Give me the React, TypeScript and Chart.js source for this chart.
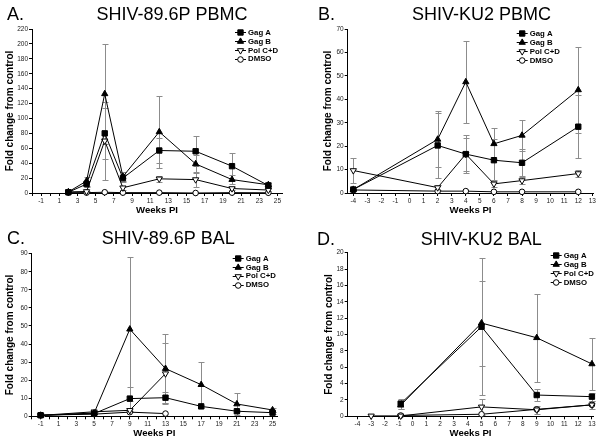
import React, { useEffect, useRef } from 'react';
import { Chart, registerables } from 'chart.js';

Chart.register(...registerables);

const FONT = '"Liberation Sans", Arial, Helvetica, sans-serif';
Chart.defaults.font.family = FONT;

const SERIES_LABELS = ['Gag A', 'Gag B', 'Pol C+D', 'DMSO'];

// ---- Panel A: SHIV-89.6P PBMC ----
const weeksA = [2, 4, 6, 8, 12, 16, 20, 24];
const gagA_A = [1, 12, 80, 20, 57, 56, 36, 10];
const gagB_A = [1.5, 16, 133, 22, 82, 39, 18, 11];
const pol_A = [1.5, 2, 70, 7, 19, 18, 6, 4];
const dmso_A = [0.5, 0.5, 1, 0.5, 0.5, 0, 0.5, 0.3];
const errGagA_A = [0.5, 4, 34, 5, 17, 20, 18, 3];
const errGagB_A = [1, 6, 67, 6, 48, 12, 6, 4];
const errPol_A = [0.5, 1, 52, 3, 4, 10, 2, 1];
const errDmso_A = [0, 0, 0, 0, 0, 0, 0, 0];
const xLabelsA = [-1, 1, 3, 5, 7, 9, 11, 13, 15, 17, 19, 21, 23, 25];

// ---- Panel B: SHIV-KU2 PBMC ----
const weeksB = [-4, 2, 4, 6, 8, 12];
const gagA_B = [1.5, 20.3, 16.6, 14, 12.9, 28.3];
const gagB_B = [1.5, 22.9, 47.4, 21, 24.6, 44];
const pol_B = [9.6, 2.3, 16.6, 3.9, 5.3, 8.3];
const dmso_B = [1.3, 0.8, 0.8, 0.5, 0.5, 0.5];
const errGagA_B = [0.3, 14, 8, 9, 5.7, 13.5];
const errGagB_B = [0.3, 12, 17.6, 6.7, 6.6, 18.5];
const errPol_B = [5.5, 1, 7, 1.5, 1.5, 1.5];
const errDmso_B = [0, 0, 0, 0, 0, 0];
const xLabelsB = [-4, -3, -2, -1, 0, 1, 2, 3, 4, 5, 6, 7, 8, 9, 10, 11, 12, 13];

// ---- Panel C: SHIV-89.6P BAL ----
const weeksC = [-1, 5, 9, 13, 17, 21, 25];
const weeksShortC = [-1, 5, 9, 13];
const gagA_C = [0.6, 1.5, 9.8, 10.3, 5.5, 2.8, 2];
const gagB_C = [0.5, 1.8, 48.2, 26.4, 17.5, 6.8, 3.5];
const pol_C = [0.5, 2.5, 3.3, 23.6];
const dmso_C = [0.6, 1.2, 2.3, 1.5];
const errGagA_C = [0.2, 0.5, 6.6, 3, 1, 0.5, 0.5];
const errGagB_C = [0.2, 0.5, 40, 19.2, 12.5, 6, 1];
const errPol_C = [0.2, 0.5, 1, 17];
const errDmso_C = [0, 0, 0, 0];
const xLabelsC = [-1, 1, 3, 5, 7, 9, 11, 13, 15, 17, 19, 21, 23, 25];

// ---- Panel D: SHIV-KU2 BAL ----
const weeksD = [-0.86, 5, 9, 13];
const weeksPolD = [-3, -0.86, 5, 9, 13];
const gagA_D = [1.55, 10.95, 2.6, 2.4];
const gagB_D = [1.35, 11.4, 9.6, 6.4];
const pol_D = [0.05, 0.05, 1.15, 0.8, 1.4];
const dmso_D = [0.1, 0.25, 0.85, 1.4];
const errGagA_D = [0.6, 8.4, 0.7, 0.5];
const errGagB_D = [0.5, 5.2, 5.4, 3.2];
const errPol_D = [0, 0, 1, 0.5, 0.5];
const errDmso_D = [0, 0, 0, 0];
const xLabelsD = [-4, -3, -2, -1, 0, 1, 2, 3, 4, 5, 6, 7, 8, 9, 10, 11, 12, 13];

const MARKERS = [
  { style: 'rect', rotation: 0, fill: '#000', radius: 3.8 },
  { style: 'triangle', rotation: 0, fill: '#000', radius: 3.6 },
  { style: 'triangle', rotation: 180, fill: '#fff', radius: 3.6 },
  { style: 'circle', rotation: 0, fill: '#fff', radius: 2.8 },
];

type Series = { label: string; weeks: number[]; values: number[]; errors: number[] };
type PanelCfg = {
  letter: string; title: string;
  left: number; top: number; width: number; height: number;
  area: { l: number; r: number; t: number; b: number };
  xMin: number; xMax: number; xLabels: number[];
  yMax: number; yStep: number;
  series: Series[];
  letterX: number; titleX: number; titleY: number;
  legX: number; legY: number; legGap: number;
  yTitlePad: number; xTitlePad: number;
};

function drawMarker(ctx: CanvasRenderingContext2D, i: number, x: number, y: number) {
  const m = MARKERS[i];
  ctx.beginPath();
  if (m.style === 'rect') {
    const s = Math.SQRT1_2 * m.radius;
    ctx.rect(x - s, y - s, 2 * s, 2 * s);
  } else if (m.style === 'triangle') {
    let rad = (m.rotation * Math.PI) / 180;
    ctx.moveTo(x + Math.sin(rad) * m.radius, y - Math.cos(rad) * m.radius);
    rad += (2 * Math.PI) / 3;
    ctx.lineTo(x + Math.sin(rad) * m.radius, y - Math.cos(rad) * m.radius);
    rad += (2 * Math.PI) / 3;
    ctx.lineTo(x + Math.sin(rad) * m.radius, y - Math.cos(rad) * m.radius);
    ctx.closePath();
  } else {
    ctx.arc(x, y, m.radius, 0, Math.PI * 2);
  }
  ctx.fillStyle = m.fill;
  ctx.fill();
  ctx.strokeStyle = '#000';
  ctx.lineWidth = 1;
  ctx.stroke();
}

const errorBarPlugin = {
  id: 'errorBars',
  beforeDatasetsDraw(chart: any) {
    const { ctx, chartArea, scales } = chart;
    const x = scales.x, y = scales.y;
    ctx.save();
    ctx.strokeStyle = '#8c8c8c';
    ctx.lineWidth = 1;
    chart.data.datasets.forEach((ds: any) => {
      const errs: number[] = ds.errors;
      if (!errs) return;
      ds.data.forEach((p: any, i: number) => {
        const e = errs[i];
        if (!e) return;
        const px = Math.round(x.getPixelForValue(p.x)) + 0.5;
        const top = Math.round(y.getPixelForValue(p.y + e)) + 0.5;
        const bot = Math.min(Math.round(y.getPixelForValue(Math.max(p.y - e, 0))) + 0.5, chartArea.bottom);
        ctx.beginPath();
        ctx.moveTo(px, top);
        ctx.lineTo(px, bot);
        ctx.moveTo(px - 3, top);
        ctx.lineTo(px + 3, top);
        ctx.moveTo(px - 3, bot);
        ctx.lineTo(px + 3, bot);
        ctx.stroke();
      });
    });
    ctx.restore();
  },
};

const decorPlugin = {
  id: 'decor',
  afterDraw(chart: any, _args: any, opts: any) {
    const ctx: CanvasRenderingContext2D = chart.ctx;
    ctx.save();
    ctx.fillStyle = '#000';
    ctx.textBaseline = 'alphabetic';
    ctx.font = `18px ${FONT}`;
    ctx.textAlign = 'left';
    ctx.fillText(opts.letter, opts.letterX, opts.titleY);
    ctx.textAlign = 'center';
    ctx.fillText(opts.title, opts.titleX, opts.titleY);
    // legend
    ctx.textAlign = 'left';
    ctx.textBaseline = 'middle';
    ctx.font = `bold 7.8px ${FONT}`;
    SERIES_LABELS.forEach((label, i) => {
      const yy = opts.legY + i * opts.legGap;
      ctx.beginPath();
      ctx.strokeStyle = '#000';
      ctx.lineWidth = 1;
      ctx.moveTo(opts.legX, Math.round(yy) + 0.5);
      ctx.lineTo(opts.legX + 11, Math.round(yy) + 0.5);
      ctx.stroke();
      drawMarker(ctx, i, opts.legX + 5.5, Math.round(yy) + 0.5);
      ctx.fillStyle = '#000';
      ctx.fillText(label, opts.legX + 13, yy + 0.5);
    });
    ctx.restore();
  },
};

function Panel({ cfg }: { cfg: PanelCfg }) {
  const ref = useRef<HTMLCanvasElement>(null);
  useEffect(() => {
    const canvas = ref.current!;
    const datasets = cfg.series.map((s, i) => ({
      label: s.label,
      data: s.weeks.map((w, j) => ({ x: w, y: s.values[j] })),
      errors: s.errors,
      borderColor: '#000',
      borderWidth: 1,
      backgroundColor: MARKERS[i].fill,
      pointBackgroundColor: MARKERS[i].fill,
      pointBorderColor: '#000',
      pointBorderWidth: 1,
      pointStyle: MARKERS[i].style,
      pointRotation: MARKERS[i].rotation,
      pointRadius: MARKERS[i].radius,
      tension: 0,
      fill: false,
      clip: false,
    }));
    const ints: number[] = [];
    for (let v = Math.ceil(cfg.xMin); v <= Math.floor(cfg.xMax); v++) ints.push(v);
    const tickFont = { size: 6.5, family: FONT };
    const chart = new Chart(canvas, {
      type: 'line',
      data: { datasets } as any,
      options: {
        responsive: false,
        animation: false,
        events: [],
        layout: { padding: { left: 0, top: cfg.area.t, right: cfg.width - cfg.area.r, bottom: 0 } },
        plugins: {
          legend: { display: false },
          tooltip: { enabled: false },
          decor: {
            letter: cfg.letter, title: cfg.title, letterX: cfg.letterX, titleX: cfg.titleX, titleY: cfg.titleY,
            legX: cfg.legX, legY: cfg.legY, legGap: cfg.legGap,
          },
        } as any,
        scales: {
          x: {
            type: 'linear',
            min: cfg.xMin,
            max: cfg.xMax,
            afterBuildTicks: (s: any) => { s.ticks = ints.map((v) => ({ value: v })); },
            afterFit: (s: any) => { s.height = cfg.height - cfg.area.b; },
            ticks: {
              autoSkip: false, maxRotation: 0, minRotation: 0, padding: 1, color: '#222', font: tickFont,
              callback: (v: any) => (cfg.xLabels.includes(Number(v)) ? String(v) : ''),
            },
            grid: { drawOnChartArea: false, drawTicks: true, tickLength: 3, color: '#000', lineWidth: 1 },
            border: { display: true, color: '#000', width: 1 },
            title: {
              display: true, text: 'Weeks PI', color: '#000',
              font: { size: 9.6, weight: 'bold', family: FONT },
              padding: { top: 0, bottom: cfg.xTitlePad },
            },
          } as any,
          y: {
            type: 'linear',
            min: 0,
            max: cfg.yMax,
            afterFit: (s: any) => { s.width = cfg.area.l; },
            ticks: { stepSize: cfg.yStep, padding: 1, color: '#222', font: tickFont },
            grid: { drawOnChartArea: false, drawTicks: true, tickLength: 3, color: '#000', lineWidth: 1 },
            border: { display: true, color: '#000', width: 1 },
            title: {
              display: true, text: 'Fold change from control', color: '#000',
              font: { size: 10, weight: 'bold', family: FONT },
              padding: { top: cfg.yTitlePad, bottom: 0 },
            },
          } as any,
        },
      },
      plugins: [errorBarPlugin, decorPlugin],
    });
    return () => chart.destroy();
  }, [cfg]);
  return (
    <canvas
      ref={ref}
      width={cfg.width}
      height={cfg.height}
      style={{ position: 'absolute', left: cfg.left, top: cfg.top, width: cfg.width, height: cfg.height }}
    />
  );
}

const mk = (weeks: number[][], values: number[][], errors: number[][]): Series[] =>
  SERIES_LABELS.map((label, i) => ({ label, weeks: weeks[i], values: values[i], errors: errors[i] }));

const PANELS: PanelCfg[] = [
  {
    letter: 'A.', title: 'SHIV-89.6P PBMC', left: 0, top: 0, width: 300, height: 222,
    area: { l: 32, r: 282, t: 29, b: 193 }, xMin: -2, xMax: 25.5, xLabels: xLabelsA, yMax: 220, yStep: 20,
    series: mk([weeksA, weeksA, weeksA, weeksA], [gagA_A, gagB_A, pol_A, dmso_A], [errGagA_A, errGagB_A, errPol_A, errDmso_A]),
    letterX: 7, titleX: 172, titleY: 19.5, legX: 235, legY: 32.3, legGap: 8.8, yTitlePad: 4.5, xTitlePad: 6.2,
  },
  {
    letter: 'B.', title: 'SHIV-KU2 PBMC', left: 300, top: 0, width: 302, height: 222,
    area: { l: 47.7, r: 293.3, t: 29, b: 193 }, xMin: -4.4, xMax: 13.07, xLabels: xLabelsB, yMax: 70, yStep: 10,
    series: mk([weeksB, weeksB, weeksB, weeksB], [gagA_B, gagB_B, pol_B, dmso_B], [errGagA_B, errGagB_B, errPol_B, errDmso_B]),
    letterX: 18, titleX: 181.5, titleY: 19.5, legX: 216.7, legY: 33, legGap: 9.1, yTitlePad: 22, xTitlePad: 5.7,
  },
  {
    letter: 'C.', title: 'SHIV-89.6P BAL', left: 0, top: 222, width: 300, height: 222,
    area: { l: 31.7, r: 277, t: 31.7, b: 194.3 }, xMin: -2, xMax: 25.5, xLabels: xLabelsC, yMax: 90, yStep: 10,
    series: mk([weeksC, weeksC, weeksShortC, weeksShortC], [gagA_C, gagB_C, pol_C, dmso_C], [errGagA_C, errGagB_C, errPol_C, errDmso_C]),
    letterX: 7, titleX: 168.3, titleY: 22, legX: 232.7, legY: 36, legGap: 8.9, yTitlePad: 4.5, xTitlePad: 4.7,
  },
  {
    letter: 'D.', title: 'SHIV-KU2 BAL', left: 300, top: 222, width: 302, height: 222,
    area: { l: 47.7, r: 293.3, t: 30.7, b: 194.3 }, xMin: -4.7, xMax: 13.1, xLabels: xLabelsD, yMax: 20, yStep: 2,
    series: mk([weeksD, weeksD, weeksPolD, weeksD], [gagA_D, gagB_D, pol_D, dmso_D], [errGagA_D, errGagB_D, errPol_D, errDmso_D]),
    letterX: 17, titleX: 181.2, titleY: 23.3, legX: 250.7, legY: 33.3, legGap: 8.9, yTitlePad: 23, xTitlePad: 5.2,
  },
];

export default function App() {
  return (
    <div style={{ position: 'fixed', left: 0, top: 0, width: 602, height: 444, background: '#fff', overflow: 'hidden' }}>
      {PANELS.map((p) => (
        <Panel key={p.letter} cfg={p} />
      ))}
    </div>
  );
}
